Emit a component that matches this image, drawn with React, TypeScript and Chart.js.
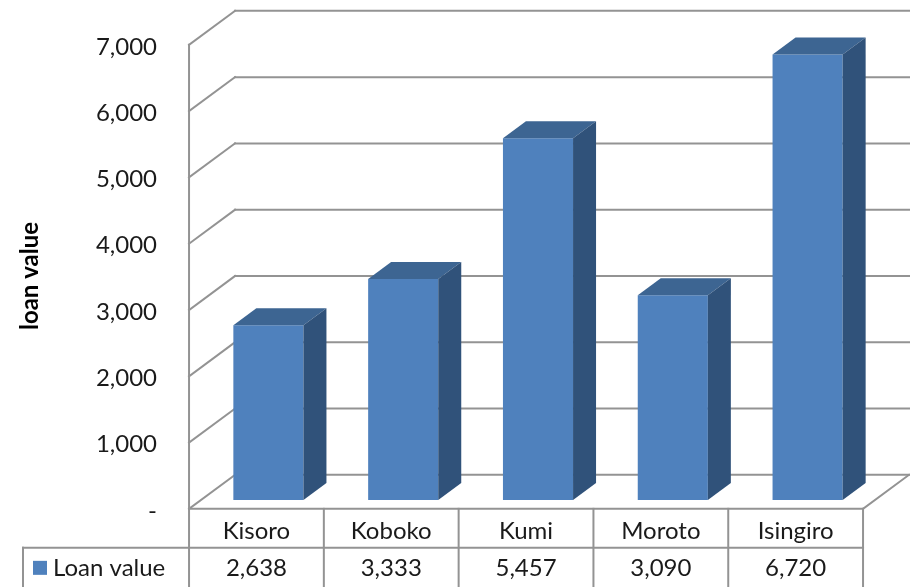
import React, { useEffect, useRef } from "react";
import { Chart, registerables } from "chart.js";

Chart.register(...registerables);

const categories = ["Kisoro", "Koboko", "Kumi", "Moroto", "Isingiro"];
const loanValues = [2638, 3333, 5457, 3090, 6720];
const yTickValues = [0, 1000, 2000, 3000, 4000, 5000, 6000, 7000];
const seriesName = "Loan value";
const yAxisTitle = "loan value";

const FONT = "Lato, 'Liberation Sans', sans-serif";
const GRID = "#939393";
const FRONT = "#4f81bd";
const TOP = "#3d6592";
const SIDE = "#30527a";
const TEXT = "#1a1a1a";

// wall depth vector (front plane -> back plane)
const DX = 46;
const DY = -34;
// bars sit from 0.26 to 0.76 of the depth
const BAR_FRONT = 0.26;
const BAR_DEPTH = 0.5;

const fmt = (v: number) => (v === 0 ? "-" : v.toLocaleString("en-US"));

const wallsPlugin = {
  id: "walls3d",
  beforeDatasetsDraw(chart: any) {
    const ctx = chart.ctx as CanvasRenderingContext2D;
    const { left, right, bottom } = chart.chartArea;
    const ys = chart.scales.y;
    const xs = chart.scales.x;
    const fx = -DX * BAR_FRONT;
    const fy = -DY * BAR_FRONT;
    const bx = DX * (1 - BAR_FRONT);
    const by = DY * (1 - BAR_FRONT);
    ctx.save();
    ctx.strokeStyle = GRID;
    ctx.lineWidth = 2;
    ctx.lineCap = "square";
    const line = (x1: number, y1: number, x2: number, y2: number) => {
      ctx.beginPath();
      ctx.moveTo(x1, y1);
      ctx.lineTo(x2, y2);
      ctx.stroke();
    };
    // gridlines on side + back wall
    yTickValues.forEach((v) => {
      const yb = ys.getPixelForValue(v);
      line(left + fx, yb + fy, left + bx, yb + by);
      line(left + bx, yb + by, chart.width + 2, yb + by);
    });
    // left axis
    line(left + fx, ys.getPixelForValue(7000) + fy, left + fx, bottom + fy);
    // floor front and right edge
    line(left + fx, bottom + fy, right + fx, bottom + fy);
    line(right + fx, bottom + fy, right + bx, bottom + by);

    // tick labels
    ctx.fillStyle = TEXT;
    ctx.font = `24px ${FONT}`;
    ctx.textAlign = "right";
    ctx.textBaseline = "middle";
    yTickValues.forEach((v) => {
      const yb = ys.getPixelForValue(v);
      ctx.fillText(fmt(v), left + fx - 32, yb + fy + 2);
    });

    // y axis title
    ctx.save();
    ctx.translate(30, 276);
    ctx.rotate(-Math.PI / 2);
    ctx.font = `bold 24px ${FONT}`;
    ctx.textAlign = "center";
    ctx.fillStyle = "#000";
    ctx.fillText(yAxisTitle, 0, 0);
    ctx.restore();

    // data table
    const rowTop = bottom + fy;
    const rowMid = rowTop + 39;
    const rowBot = chart.height + 2;
    const colW = (right - left) / categories.length;
    for (let i = 0; i <= categories.length; i++) {
      const xx = left + fx + i * colW;
      line(xx, rowTop, xx, rowBot);
    }
    line(23, rowMid, right + fx, rowMid);
    line(23, rowMid, 23, rowBot);
    ctx.fillStyle = TEXT;
    ctx.font = `24px ${FONT}`;
    ctx.textAlign = "center";
    categories.forEach((c, i) => {
      const cx = xs.getPixelForValue(i) + fx;
      ctx.fillText(c, cx, rowTop + 22);
      ctx.fillText(fmt(loanValues[i]), cx, rowMid + 20);
    });
    ctx.fillStyle = FRONT;
    ctx.fillRect(33, rowMid + 13, 14, 14);
    ctx.fillStyle = TEXT;
    ctx.textAlign = "left";
    ctx.fillText(seriesName, 53, rowMid + 20);
    ctx.restore();
  },
  afterDatasetsDraw(chart: any) {
    const ctx = chart.ctx as CanvasRenderingContext2D;
    const meta = chart.getDatasetMeta(0);
    const ddx = DX * BAR_DEPTH;
    const ddy = DY * BAR_DEPTH;
    ctx.save();
    meta.data.forEach((el: any) => {
      const xl = el.x - el.width / 2;
      const xr = el.x + el.width / 2;
      const yt = el.y;
      const yb = el.base;
      ctx.fillStyle = TOP;
      ctx.beginPath();
      ctx.moveTo(xl, yt);
      ctx.lineTo(xr, yt);
      ctx.lineTo(xr + ddx, yt + ddy);
      ctx.lineTo(xl + ddx, yt + ddy);
      ctx.closePath();
      ctx.fill();
      ctx.fillStyle = SIDE;
      ctx.beginPath();
      ctx.moveTo(xr, yt);
      ctx.lineTo(xr + ddx, yt + ddy);
      ctx.lineTo(xr + ddx, yb + ddy);
      ctx.lineTo(xr, yb);
      ctx.closePath();
      ctx.fill();
    });
    ctx.restore();
  },
};

export default function App() {
  const ref = useRef<HTMLCanvasElement | null>(null);
  useEffect(() => {
    if (!ref.current) return;
    const chart = new Chart(ref.current, {
      type: "bar",
      data: {
        labels: categories,
        datasets: [
          {
            label: seriesName,
            data: loanValues,
            backgroundColor: FRONT,
            borderWidth: 0,
            barPercentage: 0.52,
            categoryPercentage: 1,
          },
        ],
      },
      options: {
        responsive: false,
        animation: false,
        layout: { padding: { left: 201, right: 35, top: 36, bottom: 87 } },
        scales: {
          x: { display: false },
          y: { display: false, min: 0, max: 7000 },
        },
        plugins: { legend: { display: false }, tooltip: { enabled: false } },
      },
      plugins: [wallsPlugin],
    });
    return () => chart.destroy();
  }, []);
  return (
    <div style={{ position: "fixed", left: 0, top: 0, width: 910, height: 587, background: "#fff" }}>
      <canvas ref={ref} width={910} height={587} />
    </div>
  );
}
